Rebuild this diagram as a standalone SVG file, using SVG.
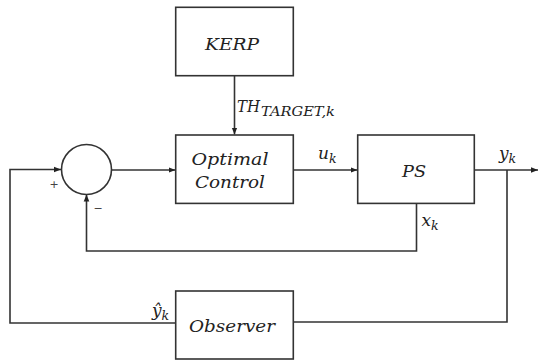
<svg xmlns="http://www.w3.org/2000/svg" width="541" height="360" viewBox="0 0 541 360">
<defs>
<marker id="arr" viewBox="0 0 10 10" refX="10" refY="5" markerWidth="7" markerHeight="7" markerUnits="userSpaceOnUse" orient="auto">
<path d="M0,1 L10,5 L0,9 Z" fill="#222"/>
</marker>
</defs>
<style>
.box{fill:#fff;stroke:#333;stroke-width:1.6}
.ln{fill:none;stroke:#333;stroke-width:1.6}
.t{font-family:"DejaVu Serif","Liberation Serif",serif;font-style:italic;fill:#222;font-size:17px}
.s{font-family:"DejaVu Serif","Liberation Serif",serif;font-style:italic;fill:#222;font-size:12.5px}
.sign{font-family:"DejaVu Sans","Liberation Sans",sans-serif;fill:#444;font-size:11px}
</style>
<rect width="541" height="360" fill="#fff"/>
<g id="connectors">
<path class="ln" d="M234.5,76 V134.5" marker-end="url(#arr)"/>
<path class="ln" d="M111,170 H175.5" marker-end="url(#arr)"/>
<path class="ln" d="M293.5,170 H357.5" marker-end="url(#arr)"/>
<path class="ln" d="M474.5,170 H538" marker-end="url(#arr)"/>
<path class="ln" d="M416.5,203.5 V251 H86.5 V194.5" marker-end="url(#arr)"/>
<path class="ln" d="M175.5,323 H10 V169.5 H61" marker-end="url(#arr)"/>
<path class="ln" d="M293.5,322 H507 V170"/>
</g>
<g id="kerp">
<rect class="box" x="175.7" y="7.3" width="117.6" height="68.4"/>
<text class="t" x="232" y="49.5" text-anchor="middle" textLength="54" lengthAdjust="spacingAndGlyphs">KERP</text>
</g>
<g id="optimal-control">
<rect class="box" x="175.7" y="135" width="117.6" height="68.4"/>
<text class="t" x="230" y="165" text-anchor="middle" textLength="77" lengthAdjust="spacingAndGlyphs">Optimal</text>
<text class="t" x="230" y="188" text-anchor="middle" textLength="70" lengthAdjust="spacingAndGlyphs">Control</text>
</g>
<g id="ps">
<rect class="box" x="357.7" y="135" width="116.6" height="68.4"/>
<text class="t" x="414" y="177" text-anchor="middle" textLength="24" lengthAdjust="spacingAndGlyphs">PS</text>
</g>
<g id="observer">
<rect class="box" x="175.7" y="291" width="117.6" height="68"/>
<text class="t" x="232" y="332" text-anchor="middle" textLength="86" lengthAdjust="spacingAndGlyphs">Observer</text>
</g>
<g id="sum">
<circle class="ln" cx="86.5" cy="169.5" r="25" fill="#fff"/>
<text class="sign" x="54" y="188" text-anchor="middle">+</text>
<text class="sign" x="98" y="212" text-anchor="middle">−</text>
</g>
<g id="labels">
<text class="t" x="237" y="112" textLength="23" lengthAdjust="spacingAndGlyphs">TH</text>
<text class="s" x="261" y="115.5" textLength="74" lengthAdjust="spacingAndGlyphs">TARGET,k</text>
<text class="t" x="318" y="159">u<tspan class="s" dy="3.5">k</tspan></text>
<text class="t" x="499" y="159">y<tspan class="s" dy="3.5">k</tspan></text>
<text class="t" x="421.5" y="226">x<tspan class="s" dy="4">k</tspan></text>
<text class="t" x="152" y="316">ŷ<tspan class="s" dy="4">k</tspan></text>
</g>
</svg>
